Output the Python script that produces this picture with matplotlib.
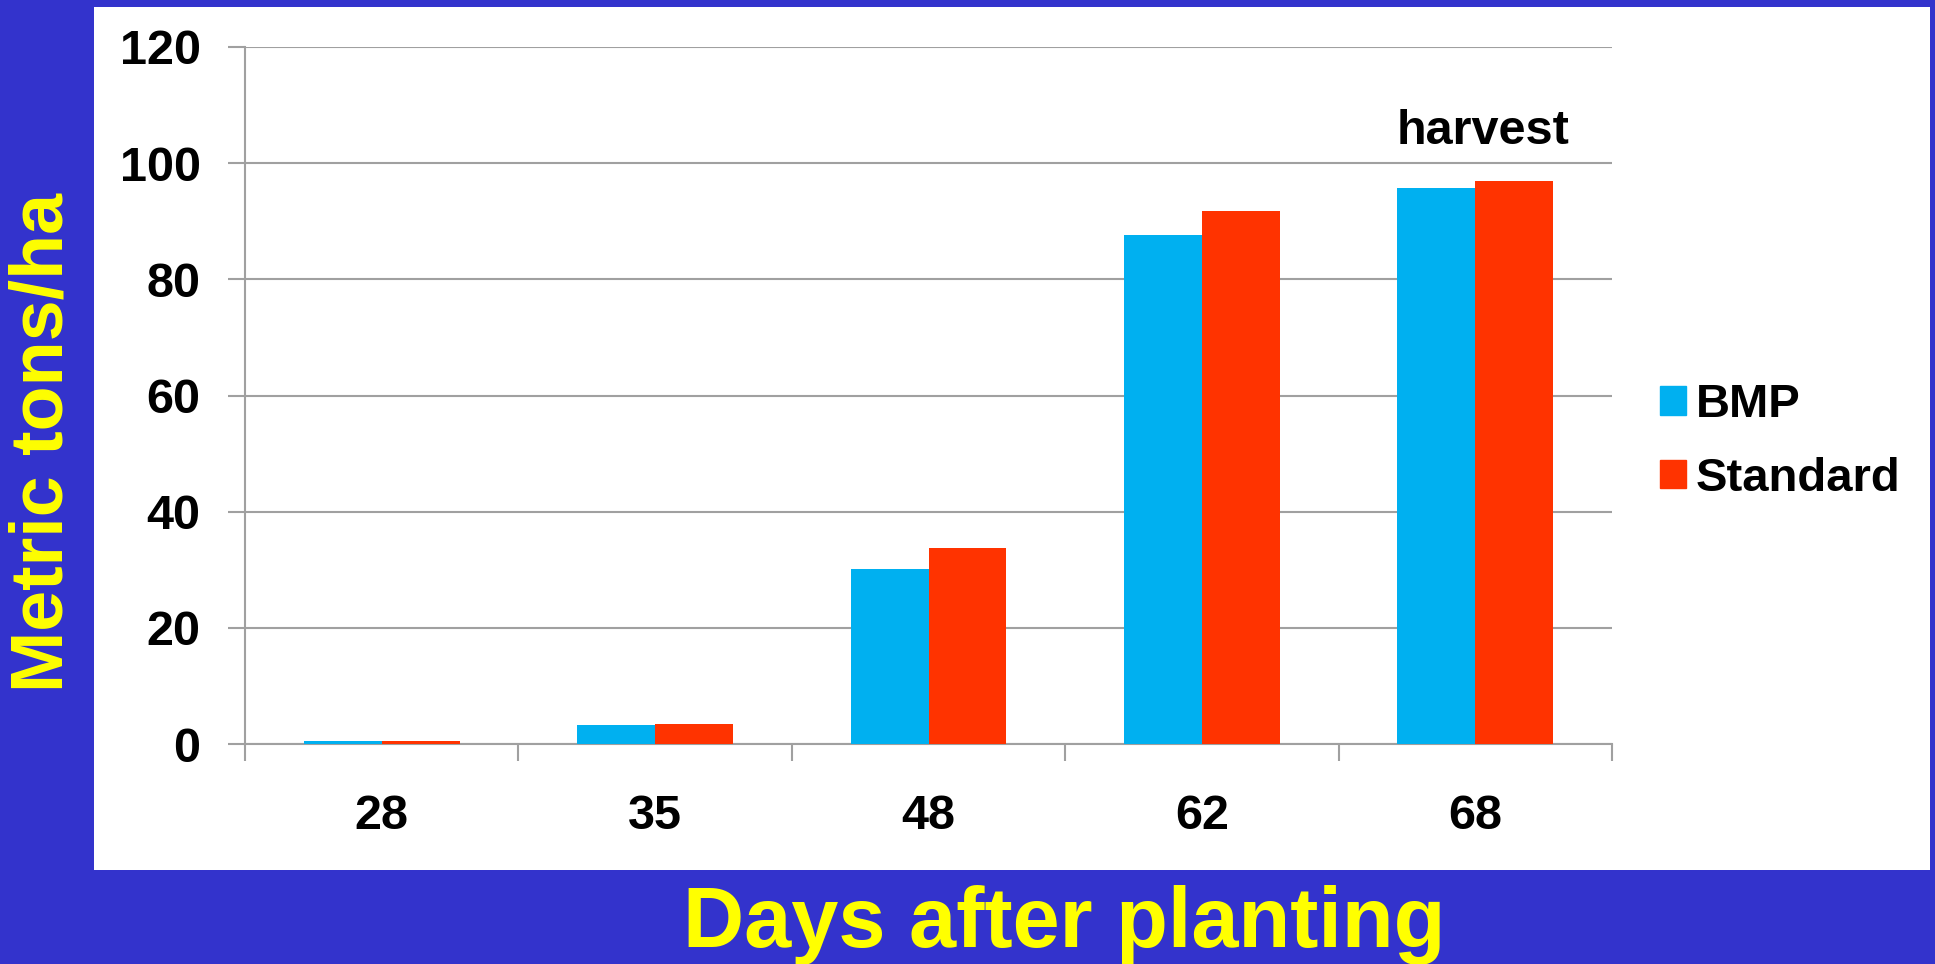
import matplotlib
matplotlib.use('Agg')
import matplotlib.pyplot as plt
from matplotlib.patches import Rectangle, Patch
import numpy as np

days = ['28', '35', '48', '62', '68']
bmp = [0.5, 3.2, 30.2, 87.6, 95.7]
standard = [0.5, 3.4, 33.8, 91.8, 96.9]

BLUE_BG = '#3333CC'
YELLOW = '#FFFF00'
BMP_COLOR = '#00B0F0'
STD_COLOR = '#FF3300'
GRID = '#A0A0A0'

plt.rcParams['font.family'] = ['Liberation Sans', 'DejaVu Sans']
plt.rcParams['font.weight'] = 'bold'

W, H = 1935, 964
fig = plt.figure(figsize=(W / 100, H / 100), dpi=100, facecolor=BLUE_BG)

# white chart panel, kept behind the axes
fig.patches.append(Rectangle((94 / W, 1 - 870 / H), (1930 - 94) / W, (870 - 7) / H,
                             transform=fig.transFigure, facecolor='white',
                             edgecolor='none', zorder=-10))

ax = fig.add_axes([245 / W, 1 - 744 / H, (1612 - 245) / W, (744 - 47) / H])
ax.set_facecolor('none')

x = np.arange(len(days)) + 0.5
bw = 0.285
ax.bar(x - bw / 2, bmp, bw, color=BMP_COLOR, label='BMP', zorder=3)
ax.bar(x + bw / 2, standard, bw, color=STD_COLOR, label='Standard', zorder=3)

ax.set_xlim(0, len(days))
ax.set_ylim(0, 120)
ax.set_yticks(range(0, 121, 20))
ax.yaxis.grid(True, color=GRID, linewidth=1.5, zorder=1)
ax.set_axisbelow(True)

# category boundaries as ticks, labels centered between them
ax.set_xticks(np.arange(len(days) + 1))
ax.set_xticklabels([])
ax.set_xticks(x, minor=True)
ax.set_xticklabels(days, minor=True)
ax.tick_params(axis='x', which='major', length=12, width=1.5, color=GRID)
ax.tick_params(axis='x', which='minor', length=0, pad=36, labelsize=35)
ax.tick_params(axis='y', length=12, width=1.5, color=GRID, pad=20, labelsize=35)

for s in ['top', 'right']:
    ax.spines[s].set_visible(False)
for s in ['left', 'bottom']:
    ax.spines[s].set_color(GRID)
    ax.spines[s].set_linewidth(1.5)

ax.text(x[-1] + 0.03, 101.5, 'harvest', ha='center', va='bottom', fontsize=35,
        fontweight='bold', color='black')

handles = [Patch(color=BMP_COLOR), Patch(color=STD_COLOR)]
fig.legend(handles, ['BMP', 'Standard'], loc='center left',
           bbox_to_anchor=(1660 / W, 1 - 442 / H), frameon=False,
           borderpad=0, borderaxespad=0,
           fontsize=34, handlelength=0.55, handleheight=0.55,
           handletextpad=0.2, labelspacing=0.62)

fig.text(43 / W, 1 - 443 / H, 'Metric tons/ha', rotation=90, ha='center',
         va='center', fontsize=53, fontweight='bold', color=YELLOW)
fig.text(1064 / W, 1 - 925 / H, 'Days after planting', ha='center',
         va='center', fontsize=61, fontweight='bold', color=YELLOW)

fig.savefig('out.png', dpi=100, facecolor=BLUE_BG)
